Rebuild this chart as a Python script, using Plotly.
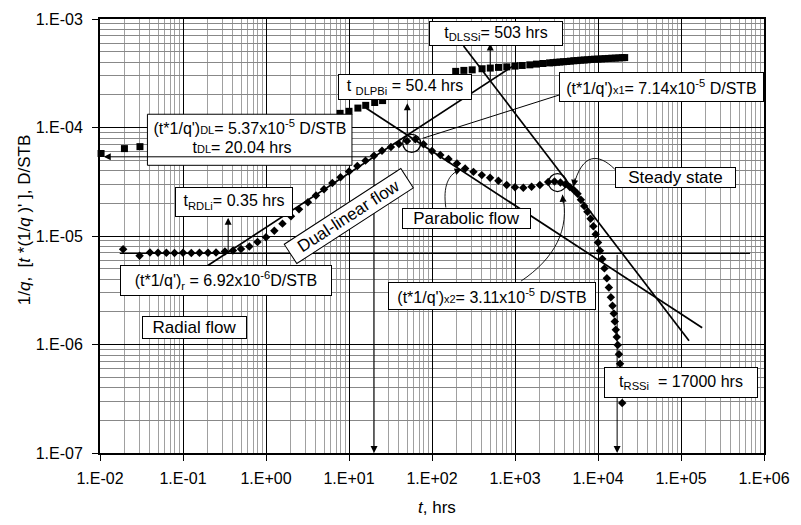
import numpy as np
import plotly.graph_objects as go

FONT = "Liberation Sans, Arial, sans-serif"

# 1/q samples (time in hrs, D/STB)
t_rate = [0.0103, 0.0197, 0.0303, 7.81, 10.0, 12.8, 15.9, 20.4, 25.4,
          193, 242, 305, 401, 504, 633, 796, 1000, 1221, 1509, 1813, 2172,
          2610, 2873, 3162, 3481, 3831, 4217, 4642, 5109, 5623, 6190, 6813,
          7499, 8254, 9085, 10000, 11007, 12115, 13335, 14678, 16156, 17783,
          19573, 20961]
inv_q = [5.76e-5, 6.39e-5, 6.66e-5, 1.35e-4, 1.41e-4, 1.51e-4, 1.60e-4,
         1.70e-4, 1.77e-4, 3.29e-4, 3.36e-4, 3.40e-4, 3.48e-4, 3.53e-4,
         3.58e-4, 3.62e-4, 3.68e-4, 3.73e-4, 3.78e-4, 3.84e-4, 3.89e-4,
         3.94e-4, 3.96e-4, 3.99e-4, 4.01e-4, 4.04e-4, 4.06e-4, 4.09e-4,
         4.12e-4, 4.14e-4, 4.17e-4, 4.19e-4, 4.21e-4, 4.24e-4, 4.26e-4,
         4.27e-4, 4.29e-4, 4.31e-4, 4.33e-4, 4.35e-4, 4.36e-4, 4.38e-4,
         4.40e-4, 4.41e-4]

# t*(1/q)' derivative samples
t_deriv = [0.019, 0.030, 0.040, 0.050, 0.063, 0.079, 0.10, 0.126, 0.158,
           0.20, 0.25, 0.32, 0.40, 0.50, 0.63, 0.79, 1.0,
           1.26, 1.58, 2.0, 2.5, 3.2, 4.0, 5.0, 6.3, 7.9, 10, 12.6, 15.8,
           20, 25, 32, 40, 50, 63,
           79, 100, 126, 158, 200, 251, 316, 398, 501, 631, 794, 1000, 1259,
           1585, 1995, 2512,
           2993, 3528, 4047, 4579, 5109, 5669, 6223, 6813, 7458, 8141, 8790,
           9388, 10000, 10563, 11250, 11950, 12796, 13520, 14282, 14962,
           15505, 15936, 16378, 16838, 17302, 17880, 18430, 18780, 19150,
           19570]
deriv = [7.55e-6, 6.59e-6, 7.06e-6, 7.02e-6, 7.0e-6, 6.98e-6, 7.0e-6,
         6.97e-6, 7.0e-6, 7.02e-6, 7.05e-6, 7.2e-6, 7.36e-6, 7.58e-6, 8.0e-6,
         8.8e-6, 9.75e-6,
         1.12e-5, 1.30e-5, 1.52e-5, 1.76e-5, 2.05e-5, 2.36e-5, 2.70e-5,
         3.08e-5, 3.48e-5, 3.93e-5, 4.42e-5, 4.95e-5, 5.50e-5, 6.1e-5,
         6.6e-5, 7.05e-5, 7.5e-5, 7.8e-5,
         7.0e-5, 6.06e-5, 5.58e-5, 5.13e-5, 4.67e-5, 4.18e-5, 3.90e-5,
         3.64e-5, 3.44e-5, 3.23e-5, 2.95e-5, 2.81e-5, 2.79e-5, 2.85e-5,
         2.95e-5, 3.14e-5,
         3.18e-5, 3.11e-5, 2.99e-5, 2.83e-5, 2.66e-5, 2.45e-5, 2.16e-5,
         1.89e-5, 1.67e-5, 1.44e-5, 1.23e-5, 1.04e-5, 8.73e-6, 7.31e-6,
         6.13e-6, 5.03e-6, 4.08e-6, 3.35e-6, 2.72e-6, 2.28e-6, 1.93e-6,
         1.63e-6, 1.37e-6, 1.17e-6, 9.9e-7, 8.12e-7, 6.66e-7, 5.19e-7,
         3.88e-7, 2.89e-7]

# interpreted values
T_RDLI = 0.35
T_DL = 20.04
T_DLPBI = 50.4
T_DLSSI = 503
T_RSSI = 17000
RADIAL = 6.92e-6
DL = 5.37e-5
X1 = 7.14e-5
X2 = 3.11e-5
T_X1 = 57
T_X2 = 3250

x_tickvals = [1e-2, 1e-1, 1e0, 1e1, 1e2, 1e3, 1e4, 1e5, 1e6]
x_ticktext = ["1.E-02", "1.E-01", "1.E+00", "1.E+01", "1.E+02", "1.E+03",
              "1.E+04", "1.E+05", "1.E+06"]
y_tickvals = [1e-7, 1e-6, 1e-5, 1e-4, 1e-3]
y_ticktext = ["1.E-07", "1.E-06", "1.E-05", "1.E-04", "1.E-03"]


def dual(t):
    # half-slope straight line through (T_DL, DL)
    return DL * (t / T_DL) ** 0.5


V_DLPBI = dual(T_DLPBI)
V_DLSSI = dual(T_DLSSI)

dual_t = [0.1, 1090]
parab_t = [16, 1.8e5]
steady_t = [240, 1.25e5]
radial_t = [0.0173, 6.8e5]

fig = go.Figure()
line = dict(color="black", width=1.7)
fig.add_trace(go.Scatter(x=radial_t, y=[RADIAL, RADIAL], mode="lines",
                         line=dict(color="black", width=1.2)))
fig.add_trace(go.Scatter(x=dual_t, y=[dual(t) for t in dual_t],
                         mode="lines", line=line))
fig.add_trace(go.Scatter(x=parab_t,
                         y=[V_DLPBI * (T_DLPBI / t) ** 0.5 for t in parab_t],
                         mode="lines", line=line))
fig.add_trace(go.Scatter(x=steady_t,
                         y=[V_DLSSI * T_DLSSI / t for t in steady_t],
                         mode="lines", line=line))
fig.add_trace(go.Scatter(x=t_deriv, y=deriv, mode="markers", cliponaxis=False,
                         marker=dict(symbol="diamond", size=6.5, color="black")))
fig.add_trace(go.Scatter(x=t_rate, y=inv_q, mode="markers", cliponaxis=False,
                         marker=dict(symbol="square", size=7, color="black")))
fig.add_trace(go.Scatter(x=[T_X1, T_X2], y=[X1, X2], mode="markers",
                         marker=dict(symbol="circle-open", size=18,
                                     color="black", line=dict(width=1.3))))

# plot area in pixels: x 100..772, y 11..453
def px(x, y):
    return (x - 100) / 672.0, (453 - y) / 442.0


def box(text, cx, cy, w, h, size=16, angle=0, border=1, bg="white"):
    x, y = px(cx, cy)
    return dict(text=text, x=x, y=y, xref="paper", yref="paper",
                xanchor="center", yanchor="middle", showarrow=False,
                width=w, height=h, borderpad=0, bgcolor=bg,
                bordercolor="black", borderwidth=border, textangle=angle,
                font=dict(family=FONT, size=size, color="black"))


def arrow(t0, v0, t1, v1, head=2):
    return dict(x=np.log10(t1), y=np.log10(v1), ax=np.log10(t0),
                ay=np.log10(v0), xref="x", yref="y", axref="x", ayref="y",
                text="", showarrow=True, arrowhead=head, arrowsize=1.4,
                arrowwidth=1, arrowcolor="black", standoff=0,
                startstandoff=0)


def head(cx, cy, dx, dy):
    x, y = px(cx, cy)
    return dict(x=x, y=y, xref="paper", yref="paper", ax=dx, ay=dy,
                text="", showarrow=True, arrowhead=2, arrowsize=1.4,
                arrowwidth=1, arrowcolor="black", standoff=0)


small = "<span style='font-size:11px'>%s</span>"

ann = [
    arrow(T_RDLI, RADIAL, T_RDLI, 1.476e-5),
    arrow(T_DLPBI, V_DLPBI, T_DLPBI, 1.677e-4),
    arrow(T_DLSSI, V_DLSSI, T_DLSSI, 5.94e-4),
    arrow(T_DL, DL, T_DL, 1e-7),
    arrow(T_RSSI, RADIAL, T_RSSI, 1e-7),
    arrow(74, 7.87e-5, 3530, 2.01e-4, head=0),
    head(466, 164, -8, 3),
    head(579, 182, 2, -10),
    head(568, 190, 1, 10),
    box("t<sub>RDLi</sub>= 0.35 hrs", 236, 197, 116, 28),
    box("(t*1/q')<sub>r</sub> = 6.92x10<sup>-6</sup>D/STB", 228, 277.5, 210, 29),
    box("Radial flow", 195.8, 324.7, 103, 21, size=17),
    box("Dual-linear flow", 352, 212, 138, 22, size=17, angle=-33),
    box("t <sub>DLPBi</sub> = 50.4 hrs", 409, 80, 132, 24),
    box("t<sub>DLSSi</sub>= 503 hrs", 501, 26, 132, 23),
    box("(t*1/q')" + small % "x1" + "= 7.14x10<sup>-5</sup> D/STB",
        668.5, 80, 203, 28),
    box("Steady state", 682.5, 172.5, 119, 19, size=17),
    box("Parabolic flow", 470.5, 213.7, 127, 19, size=17),
    box("(t*1/q')" + small % "x2" + "= 3.11x10<sup>-5</sup> D/STB",
        497, 293, 206, 26),
    box("t<sub>RSSi</sub>  = 17000 hrs", 688, 381.5, 152, 29),
    # two-line box for the dual-linear reading (frame drawn as a shape)
    box("(t*1/q')" + small % "DL" + "= 5.37x10<sup>-5</sup> D/STB",
        251.5, 120.5, 200, 20, border=0, bg="rgba(0,0,0,0)"),
    box("t" + small % "DL" + "= 20.04 hrs", 244, 141, 140, 18, border=0,
        bg="rgba(0,0,0,0)"),
    arrow(T_DL, DL, 0.0111, DL),
]

tx, ty = px(441, 509)
ann.append(dict(text="<i>t</i>, hrs", x=tx, y=ty, xref="paper", yref="paper",
                xanchor="center", yanchor="middle", showarrow=False,
                font=dict(family=FONT, size=17, color="black")))
yx, yy = px(23, 215)
ann.append(dict(text="1/<i>q</i>,\u00a0\u00a0[<i>t</i>\u00a0*(1/<i>q</i>\u00a0)'\u00a0],\u00a0D/STB",
                x=yx, y=yy, xref="paper", yref="paper", textangle=-90,
                xanchor="center", yanchor="middle", showarrow=False,
                font=dict(family=FONT, size=17, color="black")))


def path(points):
    (x0, y0), (x1, y1), (x2, y2), (x3, y3) = [px(a, b) for a, b in points]
    return "M %f,%f C %f,%f %f,%f %f,%f" % (x0, y0, x1, y1, x2, y2, x3, y3)


curve = dict(type="path", xref="paper", yref="paper",
             line=dict(color="black", width=0.9))
bx0, by0 = px(148, 160)
bx1, by1 = px(355, 108)
shapes = [
    dict(curve, path=path([(450, 203), (447, 182), (452, 168), (466, 164)])),
    dict(curve, path=path([(621, 164), (605, 148), (588, 146), (579, 182)])),
    dict(curve, path=path([(526, 278), (560, 255), (576, 225), (568, 190)])),
    dict(type="rect", xref="paper", yref="paper", x0=bx0, y0=by0, x1=bx1,
         y1=by1, fillcolor="white", line=dict(color="black", width=1),
         layer="above"),
]

minor_x = [k * 10.0 ** e for e in range(-2, 6) for k in range(2, 10)]
minor_y = [k * 10.0 ** e for e in range(-7, -3) for k in range(2, 10)]

axis = dict(type="log", ticks="outside", ticklen=6, tickwidth=1,
            tickcolor="black", showline=True, linewidth=2, linecolor="black",
            mirror=True, showgrid=True, gridcolor="black", gridwidth=1,
            zeroline=False, tickfont=dict(family=FONT, size=16, color="black"))

fig.update_layout(
    width=801, height=525, margin=dict(l=100, r=29, t=11, b=72),
    paper_bgcolor="white", plot_bgcolor="white", showlegend=False,
    font=dict(family=FONT, size=16, color="black"),
    annotations=ann, shapes=shapes,
    xaxis=dict(axis, range=[-2, 6], tickvals=x_tickvals, ticktext=x_ticktext,
               ticklabelstandoff=4,
               minor=dict(tickmode="array", tickvals=minor_x, showgrid=True,
                          gridcolor="#a0a0a0", gridwidth=1, ticks="")),
    yaxis=dict(axis, range=[-7, -3], tickvals=y_tickvals, ticktext=y_ticktext,
               ticklabelstandoff=6,
               minor=dict(tickmode="array", tickvals=minor_y, showgrid=True,
                          gridcolor="#888888", gridwidth=1, ticks="")),
)

fig.write_html("out.html")
